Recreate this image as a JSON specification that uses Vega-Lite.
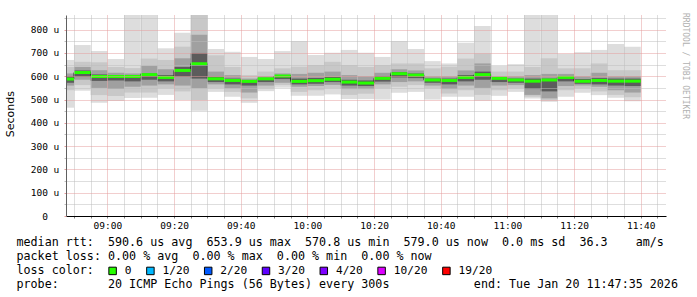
{
  "$schema": "https://vega.github.io/schema/vega-lite/v6.json",
  "width": 600,
  "height": 201,
  "autosize": "none",
  "padding": {"left": 66, "top": 15, "right": 31, "bottom": 81},
  "background": "white",
  "config": {"view": {"stroke": null}, "axisY": {"tickCount": 18}},
  "title": {"text": "RRDTOOL / TOBI OETIKER", "orient": "right", "anchor": "start", "font": "DejaVu Sans Mono", "fontSize": 8, "fontWeight": "normal", "color": "#b0b0b0", "offset": 4},
  "data": {"values": [
    {"start": "2026-01-20T08:45:00Z", "mid": "2026-01-20T08:47:30Z", "end": "2026-01-20T08:50:00Z", "min": 465, "lo2": 540, "lo3": 560, "lo4": 572, "median": 588, "hi4": 600, "hi3": 612, "hi2": 640, "max": 670, "loss": "0"},
    {"start": "2026-01-20T08:50:00Z", "mid": "2026-01-20T08:52:30Z", "end": "2026-01-20T08:55:00Z", "min": 538, "lo2": 562, "lo3": 585, "lo4": 598, "median": 616, "hi4": 625, "hi3": 640, "hi2": 662, "max": 734, "loss": "0"},
    {"start": "2026-01-20T08:55:00Z", "mid": "2026-01-20T08:57:30Z", "end": "2026-01-20T09:00:00Z", "min": 486, "lo2": 519, "lo3": 550, "lo4": 580, "median": 599, "hi4": 608, "hi3": 626, "hi2": 660, "max": 708, "loss": "0"},
    {"start": "2026-01-20T09:00:00Z", "mid": "2026-01-20T09:02:30Z", "end": "2026-01-20T09:05:00Z", "min": 494, "lo2": 515, "lo3": 545, "lo4": 582, "median": 599, "hi4": 602, "hi3": 615, "hi2": 640, "max": 674, "loss": "0"},
    {"start": "2026-01-20T09:05:00Z", "mid": "2026-01-20T09:07:30Z", "end": "2026-01-20T09:10:00Z", "min": 507, "lo2": 530, "lo3": 555, "lo4": 578, "median": 599, "hi4": 600, "hi3": 612, "hi2": 635, "max": 863, "loss": "0"},
    {"start": "2026-01-20T09:10:00Z", "mid": "2026-01-20T09:12:30Z", "end": "2026-01-20T09:15:00Z", "min": 508, "lo2": 530, "lo3": 560, "lo4": 585, "median": 607, "hi4": 612, "hi3": 645, "hi2": 676, "max": 863, "loss": "0"},
    {"start": "2026-01-20T09:15:00Z", "mid": "2026-01-20T09:17:30Z", "end": "2026-01-20T09:20:00Z", "min": 520, "lo2": 548, "lo3": 565, "lo4": 578, "median": 595, "hi4": 605, "hi3": 630, "hi2": 670, "max": 720, "loss": "0"},
    {"start": "2026-01-20T09:20:00Z", "mid": "2026-01-20T09:22:30Z", "end": "2026-01-20T09:25:00Z", "min": 498, "lo2": 535, "lo3": 560, "lo4": 598, "median": 625, "hi4": 640, "hi3": 677, "hi2": 727, "max": 787, "loss": "0"},
    {"start": "2026-01-20T09:25:00Z", "mid": "2026-01-20T09:27:30Z", "end": "2026-01-20T09:30:00Z", "min": 452, "lo2": 498, "lo3": 548, "lo4": 590, "median": 653.9, "hi4": 700, "hi3": 778, "hi2": 863, "max": 863, "loss": "0"},
    {"start": "2026-01-20T09:30:00Z", "mid": "2026-01-20T09:32:30Z", "end": "2026-01-20T09:35:00Z", "min": 533, "lo2": 548, "lo3": 565, "lo4": 575, "median": 589, "hi4": 598, "hi3": 620, "hi2": 690, "max": 717, "loss": "0"},
    {"start": "2026-01-20T09:35:00Z", "mid": "2026-01-20T09:37:30Z", "end": "2026-01-20T09:40:00Z", "min": 512, "lo2": 533, "lo3": 548, "lo4": 565, "median": 582, "hi4": 590, "hi3": 605, "hi2": 640, "max": 705, "loss": "0"},
    {"start": "2026-01-20T09:40:00Z", "mid": "2026-01-20T09:42:30Z", "end": "2026-01-20T09:45:00Z", "min": 486, "lo2": 505, "lo3": 530, "lo4": 560, "median": 578, "hi4": 582, "hi3": 590, "hi2": 605, "max": 683, "loss": "0"},
    {"start": "2026-01-20T09:45:00Z", "mid": "2026-01-20T09:47:30Z", "end": "2026-01-20T09:50:00Z", "min": 536, "lo2": 548, "lo3": 560, "lo4": 575, "median": 589, "hi4": 593, "hi3": 600, "hi2": 620, "max": 674, "loss": "0"},
    {"start": "2026-01-20T09:50:00Z", "mid": "2026-01-20T09:52:30Z", "end": "2026-01-20T09:55:00Z", "min": 551, "lo2": 562, "lo3": 572, "lo4": 588, "median": 601, "hi4": 605, "hi3": 612, "hi2": 634, "max": 708, "loss": "0"},
    {"start": "2026-01-20T09:55:00Z", "mid": "2026-01-20T09:57:30Z", "end": "2026-01-20T10:00:00Z", "min": 516, "lo2": 533, "lo3": 555, "lo4": 565, "median": 578, "hi4": 590, "hi3": 610, "hi2": 641, "max": 751, "loss": "0"},
    {"start": "2026-01-20T10:00:00Z", "mid": "2026-01-20T10:02:30Z", "end": "2026-01-20T10:05:00Z", "min": 516, "lo2": 540, "lo3": 558, "lo4": 568, "median": 581, "hi4": 592, "hi3": 615, "hi2": 648, "max": 691, "loss": "0"},
    {"start": "2026-01-20T10:05:00Z", "mid": "2026-01-20T10:07:30Z", "end": "2026-01-20T10:10:00Z", "min": 522, "lo2": 548, "lo3": 563, "lo4": 575, "median": 587, "hi4": 597, "hi3": 620, "hi2": 662, "max": 701, "loss": "0"},
    {"start": "2026-01-20T10:10:00Z", "mid": "2026-01-20T10:12:30Z", "end": "2026-01-20T10:15:00Z", "min": 502, "lo2": 520, "lo3": 545, "lo4": 560, "median": 575, "hi4": 585, "hi3": 605, "hi2": 648, "max": 713, "loss": "0"},
    {"start": "2026-01-20T10:15:00Z", "mid": "2026-01-20T10:17:30Z", "end": "2026-01-20T10:20:00Z", "min": 502, "lo2": 525, "lo3": 545, "lo4": 558, "median": 570.8, "hi4": 582, "hi3": 600, "hi2": 640, "max": 701, "loss": "0"},
    {"start": "2026-01-20T10:20:00Z", "mid": "2026-01-20T10:22:30Z", "end": "2026-01-20T10:25:00Z", "min": 500, "lo2": 548, "lo3": 565, "lo4": 577, "median": 591, "hi4": 600, "hi3": 615, "hi2": 648, "max": 683, "loss": "0"},
    {"start": "2026-01-20T10:25:00Z", "mid": "2026-01-20T10:27:30Z", "end": "2026-01-20T10:30:00Z", "min": 529, "lo2": 555, "lo3": 575, "lo4": 595, "median": 611, "hi4": 618, "hi3": 630, "hi2": 655, "max": 751, "loss": "0"},
    {"start": "2026-01-20T10:30:00Z", "mid": "2026-01-20T10:32:30Z", "end": "2026-01-20T10:35:00Z", "min": 533, "lo2": 562, "lo3": 578, "lo4": 592, "median": 605, "hi4": 612, "hi3": 625, "hi2": 655, "max": 717, "loss": "0"},
    {"start": "2026-01-20T10:35:00Z", "mid": "2026-01-20T10:37:30Z", "end": "2026-01-20T10:40:00Z", "min": 500, "lo2": 548, "lo3": 560, "lo4": 572, "median": 584, "hi4": 590, "hi3": 600, "hi2": 634, "max": 665, "loss": "0"},
    {"start": "2026-01-20T10:40:00Z", "mid": "2026-01-20T10:42:30Z", "end": "2026-01-20T10:45:00Z", "min": 512, "lo2": 526, "lo3": 545, "lo4": 565, "median": 582, "hi4": 590, "hi3": 600, "hi2": 641, "max": 655, "loss": "0"},
    {"start": "2026-01-20T10:45:00Z", "mid": "2026-01-20T10:47:30Z", "end": "2026-01-20T10:50:00Z", "min": 512, "lo2": 540, "lo3": 560, "lo4": 578, "median": 595, "hi4": 605, "hi3": 625, "hi2": 676, "max": 744, "loss": "0"},
    {"start": "2026-01-20T10:50:00Z", "mid": "2026-01-20T10:52:30Z", "end": "2026-01-20T10:55:00Z", "min": 495, "lo2": 520, "lo3": 550, "lo4": 585, "median": 607, "hi4": 620, "hi3": 655, "hi2": 698, "max": 816, "loss": "0"},
    {"start": "2026-01-20T10:55:00Z", "mid": "2026-01-20T10:57:30Z", "end": "2026-01-20T11:00:00Z", "min": 516, "lo2": 540, "lo3": 560, "lo4": 575, "median": 591, "hi4": 595, "hi3": 600, "hi2": 620, "max": 644, "loss": "0"},
    {"start": "2026-01-20T11:00:00Z", "mid": "2026-01-20T11:02:30Z", "end": "2026-01-20T11:05:00Z", "min": 533, "lo2": 548, "lo3": 562, "lo4": 572, "median": 584, "hi4": 590, "hi3": 600, "hi2": 620, "max": 652, "loss": "0"},
    {"start": "2026-01-20T11:05:00Z", "mid": "2026-01-20T11:07:30Z", "end": "2026-01-20T11:10:00Z", "min": 505, "lo2": 512, "lo3": 520, "lo4": 545, "median": 579, "hi4": 590, "hi3": 605, "hi2": 640, "max": 863, "loss": "0"},
    {"start": "2026-01-20T11:10:00Z", "mid": "2026-01-20T11:12:30Z", "end": "2026-01-20T11:15:00Z", "min": 490, "lo2": 497, "lo3": 505, "lo4": 535, "median": 584, "hi4": 590, "hi3": 610, "hi2": 677, "max": 863, "loss": "0"},
    {"start": "2026-01-20T11:15:00Z", "mid": "2026-01-20T11:17:30Z", "end": "2026-01-20T11:20:00Z", "min": 512, "lo2": 540, "lo3": 558, "lo4": 578, "median": 595, "hi4": 600, "hi3": 610, "hi2": 634, "max": 696, "loss": "0"},
    {"start": "2026-01-20T11:20:00Z", "mid": "2026-01-20T11:22:30Z", "end": "2026-01-20T11:25:00Z", "min": 529, "lo2": 548, "lo3": 560, "lo4": 568, "median": 579, "hi4": 588, "hi3": 600, "hi2": 634, "max": 703, "loss": "0"},
    {"start": "2026-01-20T11:25:00Z", "mid": "2026-01-20T11:27:30Z", "end": "2026-01-20T11:30:00Z", "min": 519, "lo2": 535, "lo3": 555, "lo4": 565, "median": 582, "hi4": 592, "hi3": 615, "hi2": 655, "max": 713, "loss": "0"},
    {"start": "2026-01-20T11:30:00Z", "mid": "2026-01-20T11:32:30Z", "end": "2026-01-20T11:35:00Z", "min": 508, "lo2": 520, "lo3": 540, "lo4": 560, "median": 579, "hi4": 590, "hi3": 600, "hi2": 626, "max": 738, "loss": "0"},
    {"start": "2026-01-20T11:35:00Z", "mid": "2026-01-20T11:37:30Z", "end": "2026-01-20T11:40:00Z", "min": 493, "lo2": 510, "lo3": 530, "lo4": 558, "median": 579.0, "hi4": 590, "hi3": 600, "hi2": 626, "max": 727, "loss": "0"}
  ]},
  "encoding": {
    "x": {
      "field": "start",
      "type": "temporal",
      "scale": {
        "type": "utc",
        "domain": [
          {"year": 2026, "month": 1, "date": 20, "hours": 8, "minutes": 47, "seconds": 35, "utc": true},
          {"year": 2026, "month": 1, "date": 20, "hours": 11, "minutes": 47, "seconds": 35, "utc": true}
        ],
        "nice": false
      },
      "axis": {
        "title": [
          "median rtt:\u00a0\u00a0590.6 us avg\u00a0\u00a0653.9 us max\u00a0\u00a0570.8 us min\u00a0\u00a0579.0 us now\u00a0\u00a00.0 ms sd\u00a0\u00a036.3\u00a0\u00a0\u00a0\u00a0am/s",
          "packet loss: 0.00 % avg\u00a0\u00a00.00 % max\u00a0\u00a00.00 % min\u00a0\u00a00.00 % now",
          "loss color:",
          "probe:\u00a0\u00a0\u00a0\u00a0\u00a0\u00a0\u00a020 ICMP Echo Pings (56 Bytes) every 300s\u00a0\u00a0\u00a0\u00a0\u00a0\u00a0\u00a0\u00a0\u00a0\u00a0\u00a0\u00a0end: Tue Jan 20 11:47:35 2026"
        ],
        "titleX": -50,
        "titleY": 29.5,
        "titleAlign": "left",
        "titleBaseline": "alphabetic",
        "titleFont": "DejaVu Sans Mono",
        "titleFontSize": 11.7,
        "titleFontWeight": "normal",
        "titleColor": "black",
        "titleLineHeight": 14,
        "titleLimit": 800,
        "values": [
          {"year": 2026, "month": 1, "date": 20, "hours": 8, "minutes": 50, "utc": true},
          {"year": 2026, "month": 1, "date": 20, "hours": 8, "minutes": 55, "utc": true},
          {"year": 2026, "month": 1, "date": 20, "hours": 9, "minutes": 0, "utc": true},
          {"year": 2026, "month": 1, "date": 20, "hours": 9, "minutes": 5, "utc": true},
          {"year": 2026, "month": 1, "date": 20, "hours": 9, "minutes": 10, "utc": true},
          {"year": 2026, "month": 1, "date": 20, "hours": 9, "minutes": 15, "utc": true},
          {"year": 2026, "month": 1, "date": 20, "hours": 9, "minutes": 20, "utc": true},
          {"year": 2026, "month": 1, "date": 20, "hours": 9, "minutes": 25, "utc": true},
          {"year": 2026, "month": 1, "date": 20, "hours": 9, "minutes": 30, "utc": true},
          {"year": 2026, "month": 1, "date": 20, "hours": 9, "minutes": 35, "utc": true},
          {"year": 2026, "month": 1, "date": 20, "hours": 9, "minutes": 40, "utc": true},
          {"year": 2026, "month": 1, "date": 20, "hours": 9, "minutes": 45, "utc": true},
          {"year": 2026, "month": 1, "date": 20, "hours": 9, "minutes": 50, "utc": true},
          {"year": 2026, "month": 1, "date": 20, "hours": 9, "minutes": 55, "utc": true},
          {"year": 2026, "month": 1, "date": 20, "hours": 10, "minutes": 0, "utc": true},
          {"year": 2026, "month": 1, "date": 20, "hours": 10, "minutes": 5, "utc": true},
          {"year": 2026, "month": 1, "date": 20, "hours": 10, "minutes": 10, "utc": true},
          {"year": 2026, "month": 1, "date": 20, "hours": 10, "minutes": 15, "utc": true},
          {"year": 2026, "month": 1, "date": 20, "hours": 10, "minutes": 20, "utc": true},
          {"year": 2026, "month": 1, "date": 20, "hours": 10, "minutes": 25, "utc": true},
          {"year": 2026, "month": 1, "date": 20, "hours": 10, "minutes": 30, "utc": true},
          {"year": 2026, "month": 1, "date": 20, "hours": 10, "minutes": 35, "utc": true},
          {"year": 2026, "month": 1, "date": 20, "hours": 10, "minutes": 40, "utc": true},
          {"year": 2026, "month": 1, "date": 20, "hours": 10, "minutes": 45, "utc": true},
          {"year": 2026, "month": 1, "date": 20, "hours": 10, "minutes": 50, "utc": true},
          {"year": 2026, "month": 1, "date": 20, "hours": 10, "minutes": 55, "utc": true},
          {"year": 2026, "month": 1, "date": 20, "hours": 11, "minutes": 0, "utc": true},
          {"year": 2026, "month": 1, "date": 20, "hours": 11, "minutes": 5, "utc": true},
          {"year": 2026, "month": 1, "date": 20, "hours": 11, "minutes": 10, "utc": true},
          {"year": 2026, "month": 1, "date": 20, "hours": 11, "minutes": 15, "utc": true},
          {"year": 2026, "month": 1, "date": 20, "hours": 11, "minutes": 20, "utc": true},
          {"year": 2026, "month": 1, "date": 20, "hours": 11, "minutes": 25, "utc": true},
          {"year": 2026, "month": 1, "date": 20, "hours": 11, "minutes": 30, "utc": true},
          {"year": 2026, "month": 1, "date": 20, "hours": 11, "minutes": 35, "utc": true},
          {"year": 2026, "month": 1, "date": 20, "hours": 11, "minutes": 40, "utc": true},
          {"year": 2026, "month": 1, "date": 20, "hours": 11, "minutes": 45, "utc": true}
        ],
        "labelExpr": "utcminutes(datum.value) % 20 === 0 ? utcFormat(datum.value, '%H:%M') : ''",
        "labelOverlap": false,
        "labelFlush": false,
        "labelFont": "DejaVu Sans Mono",
        "labelFontSize": 9.5,
        "labelColor": "black",
        "labelPadding": 7,
        "labelBaseline": "middle",
        "tickSize": 2,
        "tickColor": "#808080",
        "grid": true,
        "gridColor": {"condition": {"test": "utcminutes(datum.value) % 20 === 0", "value": "#e49c9c"}, "value": "#bcbcbc"},
        "gridDash": [1, 1],
        "gridOpacity": 1,
        "domainColor": "black",
        "zindex": 1
      }
    }
  },
  "layer": [
    {
      "mark": {"type": "rect", "color": "#dddddd", "clip": true},
      "encoding": {
        "x2": {"field": "end"},
        "y": {
          "field": "min",
          "type": "quantitative",
          "title": "Seconds",
          "scale": {"domain": [0, 863], "nice": false, "zero": false},
          "axis": {
            "title": "Seconds",
            "titleFont": "DejaVu Sans",
            "titleFontSize": 11,
            "titleFontWeight": "normal",
            "titleColor": "black",
            "titleX": -55.5,
            "titleY": 98.7,
            "titleAngle": -90,
            "titleAlign": "center",
            "titleBaseline": "middle",
            "tickCount": 18,
            "values": [0, 50, 100, 150, 200, 250, 300, 350, 400, 450, 500, 550, 600, 650, 700, 750, 800, 850],
            "labelExpr": "datum.value % 100 === 0 ? (datum.value === 0 ? '0' : datum.value + ' u') : ''",
            "labelFont": "DejaVu Sans Mono",
            "labelFontSize": 9.5,
            "labelColor": "black",
            "labelAlign": "center",
            "labelBaseline": "middle",
            "labelPadding": 19.5,
            "labelOverlap": false,
            "labelFlush": false,
            "tickSize": 2,
            "tickColor": {"condition": {"test": "datum.value % 100 === 0", "value": "#e49c9c"}, "value": "#bcbcbc"},
            "grid": true,
            "gridColor": {"condition": {"test": "datum.value % 100 === 0", "value": "#e49c9c"}, "value": "#bcbcbc"},
            "gridDash": [1, 1],
            "gridOpacity": 1,
            "domainColor": "#606060",
            "zindex": 1
          }
        },
        "y2": {"field": "max"}
      }
    },
    {
      "mark": {"type": "rect", "color": "#c8c8c8", "clip": true},
      "encoding": {"x2": {"field": "end"}, "y": {"field": "lo2", "type": "quantitative", "title": "Seconds"}, "y2": {"field": "hi2"}}
    },
    {
      "mark": {"type": "rect", "color": "#a0a0a0", "clip": true},
      "encoding": {"x2": {"field": "end"}, "y": {"field": "lo3", "type": "quantitative", "title": "Seconds"}, "y2": {"field": "hi3"}}
    },
    {
      "mark": {"type": "rect", "color": "#5c5c5c", "clip": true},
      "encoding": {"x2": {"field": "end"}, "y": {"field": "lo4", "type": "quantitative", "title": "Seconds"}, "y2": {"field": "hi4"}}
    },
    {
      "mark": {"type": "line", "interpolate": "step-after", "color": "#202020", "strokeWidth": 1, "clip": true},
      "encoding": {"y": {"field": "median", "type": "quantitative", "title": "Seconds"}}
    },
    {
      "mark": {"type": "tick", "orient": "horizontal", "thickness": 3, "size": 16.67, "opacity": 1, "clip": true},
      "encoding": {
        "x": {"field": "mid", "type": "temporal"},
        "y": {"field": "median", "type": "quantitative", "title": "Seconds"},
        "color": {
          "field": "loss",
          "type": "nominal",
          "scale": {
            "domain": ["0", "1/20", "2/20", "3/20", "4/20", "10/20", "19/20"],
            "range": ["#26ff00", "#00b8ff", "#0059ff", "#5e00ff", "#7e00ff", "#dd00ff", "#ff0000"]
          },
          "legend": {
            "orient": "none",
            "legendX": 41,
            "legendY": 250,
            "direction": "horizontal",
            "title": null,
            "symbolType": "square",
            "symbolSize": 56,
            "symbolStrokeColor": "black",
            "symbolStrokeWidth": 1,
            "symbolOpacity": 1,
            "labelFont": "DejaVu Sans Mono",
            "labelFontSize": 11.2,
            "labelColor": "black",
            "labelOffset": 6.5,
            "columnPadding": 11.8
          }
        }
      }
    }
  ]
}
